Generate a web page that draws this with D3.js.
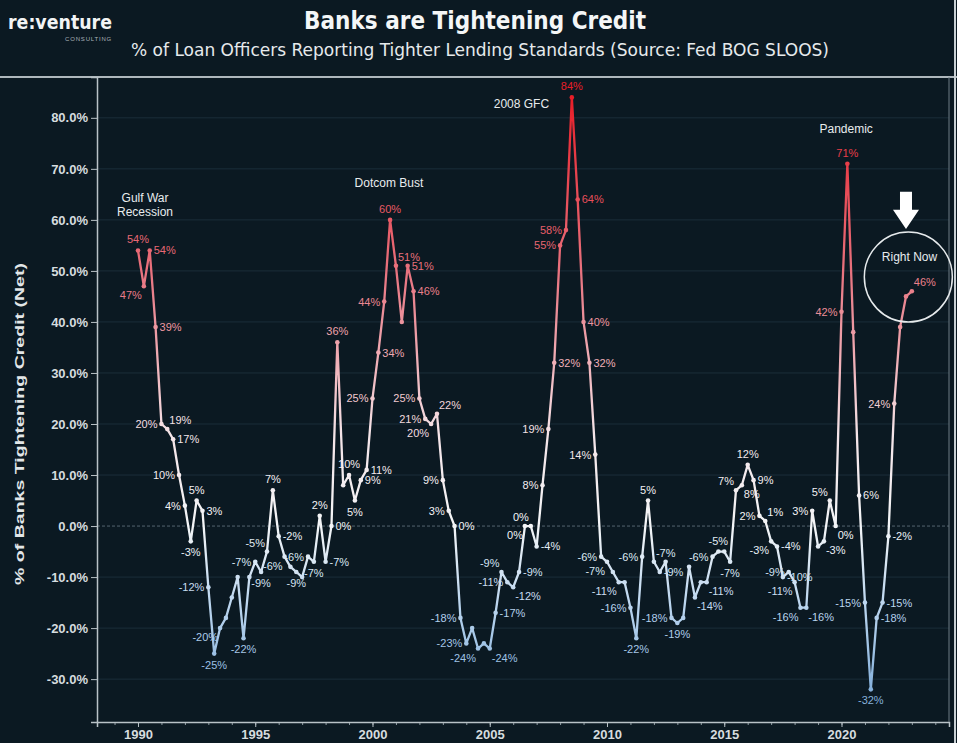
<!DOCTYPE html>
<html><head><meta charset="utf-8">
<script src="https://cdn.jsdelivr.net/npm/d3@7"></script>
<style>
html,body{margin:0;padding:0;background:#0b1922;}
svg{display:block;}
</style></head><body>
<svg id="chart" width="957" height="743"></svg>
<script>
// ---- data ----
const startYear = 1990; // first quarter plotted
const tightening = [
 54,47,54,39,20,19,17,10,4,-3,
 5,3,-12,-25,-20,-18,-14,-10,-22,-10,
 -7,-9,-5,7,-2,-6,-8,-9,-10,-6,
 -7,2,-7,0,36,8,10,5,9,11,
 25,34,44,60,51,40,51,46,25,21,
 20,22,9,3,0,-18,-23,-20,-24,-23,
 -24,-17,-9,-11,-12,-9,0,0,-4,8,
 19,32,55,58,84,64,40,32,14,-6,
 -7,-9,-11,-11,-16,-22,-6,5,-7,-9,
 -7,-18,-19,-18,-8,-14,-11,-11,-6,-5,
 -5,-7,7,8,12,9,2,1,-3,-4,
 -10,-9,-11,-16,-16,3,-4,-3,5,0,
 42,71,38,6,-15,-32,-18,-15,-2,24,
 39,45,46
];
// which side of each point its value label sits on ('n' = hidden)
const labelSide = [
 't','bl','r','r','l','tr','r','l','l','b',
 't','r','l','b','bl','n','n','n','b','n',
 'l','b','tl','t','r','bl','n','b','n','l',
 'b','t','r','r','t','n','t','b','r','r',
 'l','r','l','t','tr','n','r','r','l','l',
 'bl','tr','l','l','r','l','l','n','bl','n',
 'br','r','tl','l','br','r','bl','tl','r','l',
 'l','r','l','l','t','r','r','r','l','l',
 'bl','n','bl','n','l','b','l','t','tr','r',
 'n','l','b','n','n','br','n','br','l','t',
 'n','b','tl','br','t','r','l','tr','bl','r',
 'r','l','bl','bl','br','l','n','br','tl','br',
 'l','t','n','r','l','b','r','r','r','l',
 'n','n','tr'
];
const yTicks = [-30,-20,-10,0,10,20,30,40,50,60,70,80];
const xTicks = [1990,1995,2000,2005,2010,2015,2020];
const events = [
 {lines:["Gulf War","Recession"], year:1990.3, value:63.5},
 {lines:["Dotcom Bust"], year:2000.7, value:66.5},
 {lines:["2008 GFC"], year:2006.35, value:82},
 {lines:["Pandemic"], year:2020.2, value:77}
];
const nowNote = {text:"Right Now", year:2022.9, value:52, circleYear:2022.85, circleValue:48.8};

// ---- layout ----
const svg = d3.select("#chart");
const W = 957, H = 743;
const m = {left:97, right:949, top:77, bottom:722};
const bg = "#0b1922";
svg.append("rect").attr("width",W).attr("height",H).attr("fill",bg);

const x = d3.scaleLinear().domain([1988.252, 2024.584]).range([m.left, m.right]);
const y = d3.scaleLinear().domain([-38.4, 88]).range([m.bottom, m.top]);

const data = tightening.map((v,i)=>({t:startYear + i*0.25, v, side:labelSide[i]}));

const color = d3.scaleLinear()
  .domain([-32,-15,0,18,32,50,84])
  .range(["#86b1dc","#bcd6ef","#f3f5f7","#f4e4e8","#f0b0b8","#e8727e","#e81e28"])
  .clamp(true);

const narrow = "Liberation Sans Narrow, DejaVu Sans Condensed, Arial Narrow, sans-serif";
const sans = "Liberation Sans, Arial, sans-serif";

// header
svg.append("text").attr("x",8).attr("y",29)
  .attr("font-family",narrow)
  .attr("font-weight","bold").attr("font-size",19).attr("fill","#f2f4f5")
  .attr("textLength",104).attr("lengthAdjust","spacingAndGlyphs").text("re:venture");
svg.append("text").attr("x",112).attr("y",41).attr("text-anchor","end")
  .attr("font-family",sans).attr("font-size",6)
  .attr("fill","#a9b2b8").attr("letter-spacing",0.8).text("CONSULTING");
svg.append("text").attr("x",475).attr("y",29).attr("text-anchor","middle")
  .attr("font-family",narrow)
  .attr("font-weight","bold").attr("font-size",25).attr("fill","#f4f6f7")
  .attr("textLength",342).attr("lengthAdjust","spacingAndGlyphs")
  .text("Banks are Tightening Credit");
svg.append("text").attr("x",480).attr("y",56).attr("text-anchor","middle")
  .attr("font-family",narrow)
  .attr("font-size",17).attr("fill","#e6eaec")
  .attr("textLength",698).attr("lengthAdjust","spacingAndGlyphs")
  .text("% of Loan Officers Reporting Tighter Lending Standards (Source: Fed BOG SLOOS)");
svg.append("line").attr("x1",0).attr("x2",W).attr("y1",m.top).attr("y2",m.top)
  .attr("stroke","#aeb7bc").attr("stroke-width",2);
svg.append("line").attr("x1",W-2).attr("x2",W-2).attr("y1",0).attr("y2",H)
  .attr("stroke","#c9d0d4").attr("stroke-width",2);

// grid
const grid = svg.append("g");
grid.selectAll("line").data(yTicks).join("line")
  .attr("x1",m.left).attr("x2",m.right)
  .attr("y1",d=>y(d)).attr("y2",d=>y(d))
  .attr("stroke",d=>d===0?"#55656f":"#1b2e3a")
  .attr("stroke-width",1)
  .attr("stroke-dasharray",d=>d===0?"3,2":null);

// y axis
const yAxis = d3.axisLeft(y).tickValues(yTicks).tickSize(6).tickPadding(3)
  .tickFormat(d=>d.toFixed(1).replace("\u2212","-")+"%");
const gy = svg.append("g").attr("transform",`translate(${m.left},0)`).call(yAxis);
gy.select(".domain").attr("stroke","#b9c2c7").attr("stroke-width",1.5);
gy.selectAll(".tick line").attr("stroke","#b9c2c7");
gy.selectAll(".tick text").attr("fill","#d6dcdf").attr("font-size",13)
  .attr("font-weight","bold").attr("font-family",sans);

svg.append("text")
  .attr("transform",`translate(24,${(y(52)+y(-12))/2}) rotate(-90)`)
  .attr("text-anchor","middle").attr("font-weight","bold").attr("font-size",12.5)
  .attr("font-family",sans).attr("fill","#e2e6e8")
  .attr("textLength",322).attr("lengthAdjust","spacingAndGlyphs")
  .text("% of Banks Tightening Credit (Net)");

// x axis
const gxMinor = svg.append("g").attr("transform",`translate(0,${m.bottom})`)
  .call(d3.axisBottom(x).tickValues(d3.range(1989,2025)).tickSize(3).tickFormat(""));
gxMinor.select(".domain").remove();
gxMinor.selectAll(".tick line").attr("stroke","#8f9ba2");
const gx = svg.append("g").attr("transform",`translate(0,${m.bottom})`)
  .call(d3.axisBottom(x).tickValues(xTicks).tickSize(5).tickPadding(3).tickFormat(d3.format("d")));
gx.select(".domain").attr("stroke","#b9c2c7").attr("stroke-width",1.5);
gx.selectAll(".tick line").attr("stroke","#b9c2c7");
gx.selectAll(".tick text").attr("fill","#d6dcdf").attr("font-size",13)
  .attr("font-weight","bold").attr("font-family",sans);

// right border
svg.append("line").attr("x1",m.right).attr("x2",m.right).attr("y1",m.top).attr("y2",m.bottom)
  .attr("stroke","#6f7d85").attr("stroke-width",1);

// gradient for the line
const defs = svg.append("defs");
const grad = defs.append("linearGradient").attr("id","lineGrad")
  .attr("gradientUnits","userSpaceOnUse")
  .attr("x1",0).attr("x2",0).attr("y1",y(84)).attr("y2",y(-32));
color.domain().slice().reverse().forEach(d=>{
  grad.append("stop").attr("offset",(y(d)-y(84))/(y(-32)-y(84))).attr("stop-color",color(d));
});

const line = d3.line().x(d=>x(d.t)).y(d=>y(d.v));
svg.append("path").datum(data).attr("d",line)
  .attr("fill","none").attr("stroke","url(#lineGrad)").attr("stroke-width",2.3)
  .attr("stroke-linejoin","round");

svg.append("g").selectAll("circle").data(data).join("circle")
  .attr("cx",d=>x(d.t)).attr("cy",d=>y(d.v)).attr("r",2.3)
  .attr("fill",d=>color(d.v));

// value labels
const off = {
  t:{dx:0,dy:-7,a:"middle"}, b:{dx:0,dy:15,a:"middle"},
  l:{dx:-4,dy:4,a:"end"}, r:{dx:4,dy:4,a:"start"},
  tl:{dx:-2,dy:-5,a:"end"}, bl:{dx:-2,dy:13,a:"end"},
  tr:{dx:2,dy:-5,a:"start"}, br:{dx:2,dy:13,a:"start"}
};
svg.append("g").selectAll("text").data(data.filter(d=>d.side!=="n")).join("text")
  .attr("x",d=>x(d.t)+off[d.side].dx).attr("y",d=>y(d.v)+off[d.side].dy)
  .attr("text-anchor",d=>off[d.side].a)
  .attr("font-family",sans).attr("font-size",11)
  .attr("fill",d=>color(d.v))
  .text(d=>String(d.v)+"%");

// event annotations
const ev = svg.append("g");
events.forEach(e=>{
  const t = ev.append("text").attr("x",x(e.year)).attr("y",y(e.value))
    .attr("text-anchor","middle").attr("font-family",sans)
    .attr("font-size",12).attr("fill","#e8ecee");
  e.lines.forEach((s,i)=>t.append("tspan").attr("x",x(e.year)).attr("dy",i?14:0).text(s));
});

// right-now circle and arrow
svg.append("ellipse").attr("cx",x(nowNote.circleYear)).attr("cy",y(nowNote.circleValue))
  .attr("rx",44).attr("ry",45).attr("fill","none").attr("stroke","#e6eaec").attr("stroke-width",1.5);
svg.append("text").attr("x",x(nowNote.year)).attr("y",y(nowNote.value))
  .attr("text-anchor","middle").attr("font-family",sans)
  .attr("font-size",12).attr("fill","#e8ecee").text(nowNote.text);
const ax = x(2022.75), aTop = y(65.5), aBot = y(58.2);
svg.append("path")
  .attr("d",`M${ax-6},${aTop} L${ax+6},${aTop} L${ax+6},${aTop+18} L${ax+13},${aTop+18} L${ax},${aBot} L${ax-13},${aTop+18} L${ax-6},${aTop+18} Z`)
  .attr("fill","#ffffff");
</script>
</body></html>
